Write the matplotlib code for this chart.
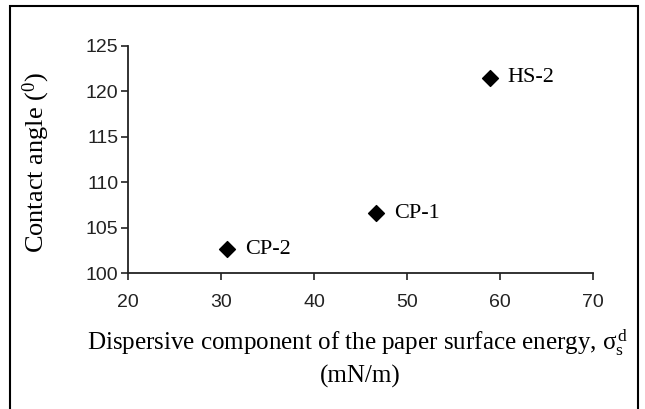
import numpy as np
import matplotlib
matplotlib.use('Agg')
from matplotlib import pyplot as plt
from matplotlib.patches import Rectangle

# data
papers = ['CP-2', 'CP-1', 'HS-2']
surface_energy = [30.6, 46.7, 58.9]   # dispersive component, mN/m
contact_angle = [102.6, 106.6, 121.5]  # degrees

plt.rcParams['mathtext.fontset'] = 'custom'
plt.rcParams['mathtext.rm'] = 'Liberation Serif'
plt.rcParams['mathtext.it'] = 'Liberation Serif:italic'
plt.rcParams['mathtext.bf'] = 'Liberation Serif:bold'
serif = 'Liberation Serif'
sans = 'Liberation Sans'

fig = plt.figure(figsize=(6.45, 4.09), dpi=100)
ax = fig.add_axes([128/645, 1-273/409, (593-128)/645, (273-46)/409])

ax.scatter(surface_energy, contact_angle, marker='D', s=65, color='black', zorder=3)
for name, xv, yv in zip(papers, surface_energy, contact_angle):
    ax.annotate(name, (xv, yv), xytext=(13, 0), textcoords='offset points',
                va='center', ha='left', fontsize=16, family=serif)

ax.set_xlim(20, 70)
ax.set_ylim(100, 125)
ax.set_xticks(np.arange(20, 71, 10))
ax.set_yticks(np.arange(100, 126, 5))
ax.spines['top'].set_visible(False)
ax.spines['right'].set_visible(False)
for s in ['left', 'bottom']:
    ax.spines[s].set_linewidth(1.3)
    ax.spines[s].set_color('#222222')
ax.tick_params(direction='out', length=5, width=1.2, labelsize=14, colors='#222222')
ax.tick_params(axis='x', pad=10)
ax.tick_params(axis='y', pad=2)
for lab in ax.get_xticklabels() + ax.get_yticklabels():
    lab.set_family(sans)

fig.text(36/645, 1-163/409, r'Contact angle ($\mathrm{^{0}}$)', rotation=90, ha='center', va='center',
         fontsize=19, family=serif)
fig.text(358/645, 1-343/409, r'Dispersive component of the paper surface energy, $\mathrm{\sigma_{s}^{\,d}}$',
         ha='center', va='center', fontsize=18, family=serif)
fig.text(360/645, 1-376/409, '(mN/m)', ha='center', va='center', fontsize=18, family=serif)

# outer frame
fig.patches.append(Rectangle((10/645, -0.05), (628/645), 1-6/409+0.05, transform=fig.transFigure,
                             fill=False, edgecolor='black', linewidth=1.5))

fig.savefig('out.png', dpi=100)
